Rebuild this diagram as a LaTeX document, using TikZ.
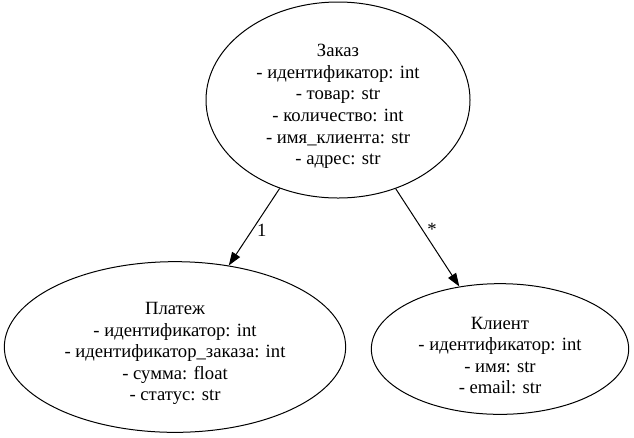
\documentclass[tikz,border=0pt]{standalone}
\usepackage{fontspec}
\setmainfont{Liberation Serif}
\usetikzlibrary{shapes.geometric,arrows.meta}
\newcommand\padtop{\rule{0pt}{19pt}}
\begin{document}
\begin{tikzpicture}[x=0.75pt,y=-0.75pt,
    cls/.style={draw,ellipse,inner sep=0pt,align=center,line width=0.75pt,
      font=\fontsize{14}{16.2}\selectfont},
    rel/.style={-{Triangle[length=10pt,width=7pt]},line width=0.75pt}]
    \useasboundingbox (0,0) rectangle (634,437);
    \node[cls,minimum width=198pt,minimum height=147pt] (zakaz) at (338,100)
      {\padtop Заказ\\- идентификатор: int\\- товар: str\\- количество: int\\- имя\_клиента: str\\- адрес: str};
    \node[cls,minimum width=256pt,minimum height=128pt] (platezh) at (175,347)
      {\padtop Платеж\\- идентификатор: int\\- идентификатор\_заказа: int\\- сумма: float\\- статус: str};
    \node[cls,minimum width=193pt,minimum height=98pt] (klient) at (500,349)
      {\padtop Клиент\\- идентификатор: int\\- имя: str\\- email: str};
    \draw[rel] (zakaz) -- node[pos=0.54,right,font=\fontsize{14}{16.2}\selectfont] {1} (platezh);
    \draw[rel] (zakaz) -- node[pos=0.42,right,font=\fontsize{14}{16.2}\selectfont] {*} (klient);
  \end{tikzpicture}
\end{document}
